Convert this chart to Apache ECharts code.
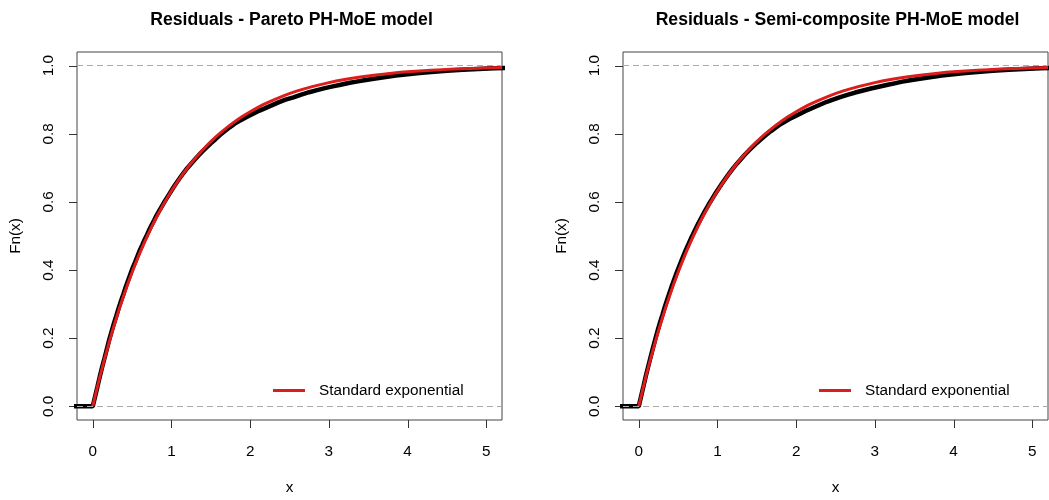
<!DOCTYPE html>
<html>
<head>
<meta charset="utf-8">
<script src="https://cdn.jsdelivr.net/npm/echarts@6/dist/echarts.min.js"></script>
<style>
html,body{margin:0;padding:0;background:#fff;}
#chart{width:1049px;height:500px;}
</style>
</head>
<body>
<div id="chart"></div>
<script>
// ---- data ----
var titles = ['Residuals - Pareto PH-MoE model', 'Residuals - Semi-composite PH-MoE model'];
var legendName = 'Standard exponential';
var xTicks = [0, 1, 2, 3, 4, 5];
var yTicks = [0, 0.2, 0.4, 0.6, 0.8, 1.0];

// reference curve (standard exponential CDF)
var expX = [0, 0.1, 0.2, 0.3, 0.4, 0.5, 0.6, 0.7, 0.8, 0.9, 1.0, 1.1, 1.2, 1.3, 1.4, 1.5, 1.6, 1.7, 1.8, 1.9, 2.0, 2.2, 2.4, 2.6, 2.8, 3.0, 3.2, 3.4, 3.6, 3.8, 4.0, 4.3, 4.6, 5.0, 5.2];
var expY = [0, 0.0952, 0.1813, 0.2592, 0.3297, 0.3935, 0.4512, 0.5034, 0.5507, 0.5934, 0.6321, 0.6671, 0.6988, 0.7275, 0.7534, 0.7769, 0.7981, 0.8173, 0.8347, 0.8504, 0.8647, 0.8892, 0.9093, 0.9257, 0.9392, 0.9502, 0.9592, 0.9666, 0.9727, 0.9776, 0.9817, 0.9864, 0.9899, 0.9933, 0.9945];

// empirical CDF of residuals, Pareto PH-MoE (black)
var paretoX = [-0.25, 0, 0.03, 0.06, 0.09, 0.12, 0.15, 0.18, 0.21, 0.24, 0.27, 0.30, 0.33, 0.36, 0.39, 0.42, 0.45, 0.48, 0.51, 0.54, 0.57, 0.60, 0.63, 0.66, 0.69, 0.72, 0.75, 0.78, 0.81, 0.84, 0.87, 0.90, 0.94, 0.98, 1.02, 1.06, 1.10, 1.15, 1.20, 1.25, 1.30, 1.35, 1.40, 1.45, 1.50, 1.56, 1.62, 1.68, 1.74, 1.80, 1.86, 1.92, 1.98, 2.05, 2.12, 2.20, 2.28, 2.36, 2.45, 2.55, 2.65, 2.75, 2.85, 2.95, 3.05, 3.15, 3.25, 3.35, 3.45, 3.55, 3.70, 3.85, 4.00, 4.15, 4.30, 4.50, 4.70, 4.90, 5.10, 5.25];
var paretoY = [0, 0, 0.029, 0.058, 0.088, 0.116, 0.142, 0.169, 0.196, 0.220, 0.244, 0.266, 0.289, 0.310, 0.330, 0.351, 0.370, 0.389, 0.408, 0.424, 0.442, 0.459, 0.474, 0.490, 0.504, 0.519, 0.533, 0.546, 0.560, 0.572, 0.584, 0.596, 0.611, 0.626, 0.641, 0.655, 0.668, 0.684, 0.699, 0.712, 0.725, 0.738, 0.750, 0.761, 0.772, 0.784, 0.797, 0.808, 0.819, 0.829, 0.837, 0.845, 0.852, 0.860, 0.868, 0.876, 0.884, 0.892, 0.900, 0.907, 0.915, 0.922, 0.928, 0.934, 0.939, 0.944, 0.949, 0.953, 0.957, 0.961, 0.966, 0.971, 0.975, 0.978, 0.981, 0.985, 0.988, 0.990, 0.992, 0.993];

// empirical CDF of residuals, Semi-composite PH-MoE (black)
var semiX = [-0.25, 0, 0.03, 0.06, 0.09, 0.12, 0.15, 0.18, 0.21, 0.24, 0.27, 0.30, 0.33, 0.36, 0.39, 0.42, 0.45, 0.48, 0.51, 0.54, 0.57, 0.60, 0.63, 0.66, 0.69, 0.72, 0.75, 0.78, 0.81, 0.84, 0.87, 0.90, 0.94, 0.98, 1.02, 1.06, 1.10, 1.15, 1.20, 1.25, 1.30, 1.35, 1.40, 1.45, 1.50, 1.56, 1.62, 1.68, 1.74, 1.80, 1.86, 1.92, 1.98, 2.05, 2.12, 2.20, 2.28, 2.36, 2.45, 2.55, 2.65, 2.75, 2.85, 2.95, 3.05, 3.15, 3.25, 3.35, 3.45, 3.55, 3.70, 3.85, 4.00, 4.15, 4.30, 4.50, 4.70, 4.90, 5.10, 5.25];
var semiY = [0, 0, 0.030, 0.059, 0.089, 0.117, 0.144, 0.171, 0.197, 0.222, 0.246, 0.268, 0.291, 0.312, 0.333, 0.353, 0.372, 0.391, 0.409, 0.426, 0.443, 0.460, 0.475, 0.491, 0.505, 0.520, 0.534, 0.547, 0.560, 0.573, 0.585, 0.597, 0.612, 0.627, 0.641, 0.655, 0.668, 0.684, 0.699, 0.713, 0.726, 0.739, 0.751, 0.762, 0.773, 0.785, 0.797, 0.808, 0.818, 0.828, 0.836, 0.844, 0.851, 0.859, 0.867, 0.875, 0.883, 0.891, 0.899, 0.907, 0.914, 0.921, 0.927, 0.933, 0.938, 0.943, 0.948, 0.953, 0.957, 0.961, 0.966, 0.971, 0.975, 0.978, 0.981, 0.985, 0.988, 0.990, 0.992, 0.993];

function zip(xs, ys) { return xs.map(function (x, i) { return [x, ys[i]]; }); }

var FONT = '"Liberation Sans", Arial, Helvetica, sans-serif';
var X_MIN = -0.2, X_MAX = 5.2, Y_MIN = -0.04, Y_MAX = 1.04, TICK_LEN = 8;
var panels = [
  { left: 77, ecdf: zip(paretoX, paretoY) },
  { left: 623, ecdf: zip(semiX, semiY) }
];
var gridW = 425, gridTop = 52, gridH = 371;

var option = {
  backgroundColor: '#fff',
  animation: false,
  title: panels.map(function (p, i) {
    return {
      text: titles[i], left: p.left + gridW / 2 - 3, top: 6, textAlign: 'center',
      textStyle: { fontFamily: FONT, fontWeight: 'bold', fontSize: 17.6, color: '#000' }
    };
  }),
  legend: panels.map(function (p, i) {
    return {
      data: [legendName], left: p.left + 191, top: 378,
      itemWidth: 32, itemHeight: 14, icon: 'path://M0,6 L32,6 L32,9 L0,9 Z',
      textStyle: { fontFamily: FONT, fontSize: 15.3, color: '#000', padding: [0, 0, 0, 9] },
      selectedMode: false
    };
  }),
  grid: panels.map(function (p) {
    return { left: p.left, top: gridTop, width: gridW, height: gridH, show: true, borderColor: '#444', borderWidth: 1, backgroundColor: 'transparent' };
  }),
  xAxis: panels.map(function (p, i) {
    return {
      type: 'value', gridIndex: i, min: X_MIN, max: X_MAX,
      name: 'x', nameLocation: 'middle', nameGap: 60,
      nameTextStyle: { fontFamily: FONT, fontSize: 15.3, color: '#000' },
      axisLine: { show: false, onZero: false },
      axisTick: { show: false },
      axisLabel: { fontFamily: FONT, fontSize: 15.3, color: '#000', margin: 24, customValues: xTicks },
      splitLine: { show: false }
    };
  }),
  yAxis: panels.map(function (p, i) {
    return {
      type: 'value', gridIndex: i, min: Y_MIN, max: Y_MAX,
      name: 'Fn(x)', nameLocation: 'middle', nameGap: 54, nameRotate: 90,
      nameTextStyle: { fontFamily: FONT, fontSize: 15.3, color: '#000' },
      axisLine: { show: false, onZero: false },
      axisTick: { show: false },
      axisLabel: {
        fontFamily: FONT, fontSize: 15.3, color: '#000', margin: 21, rotate: 90,
        customValues: yTicks, formatter: function (v) { return v.toFixed(1); }
      },
      splitLine: { show: false }
    };
  }),
  series: []
};

var tickStyle = { stroke: '#333', lineWidth: 1 };

panels.forEach(function (p, i) {
  option.series.push({
    type: 'line', name: 'ecdf' + i, xAxisIndex: i, yAxisIndex: i, data: p.ecdf,
    showSymbol: false, symbol: 'none', clip: true,
    lineStyle: { color: '#000', width: 4.5 }, z: 3,
    markLine: {
      silent: true, symbol: 'none', label: { show: false },
      lineStyle: { color: '#aaa', type: [6, 4], width: 1 },
      data: [{ yAxis: 0 }, { yAxis: 1 }]
    }
  });
  option.series.push({
    type: 'line', name: legendName, xAxisIndex: i, yAxisIndex: i, data: zip(expX, expY),
    showSymbol: false, symbol: 'none', clip: true, smooth: 0.3,
    lineStyle: { color: '#dd1c1c', width: 3 }, itemStyle: { color: '#dd1c1c' }, z: 4
  });
  // x-axis ticks (outward, R style)
  option.series.push({
    type: 'custom', name: 'xticks' + i, xAxisIndex: i, yAxisIndex: i, silent: true, clip: false,
    data: xTicks.map(function (v) { return [v, Y_MIN]; }),
    renderItem: function (params, api) {
      var pt = api.coord([api.value(0), Y_MIN]);
      var x = Math.round(pt[0]) + 0.5;
      return { type: 'line', shape: { x1: x, y1: pt[1], x2: x, y2: pt[1] + TICK_LEN }, style: tickStyle };
    }
  });
  // y-axis ticks
  option.series.push({
    type: 'custom', name: 'yticks' + i, xAxisIndex: i, yAxisIndex: i, silent: true, clip: false,
    data: yTicks.map(function (v) { return [X_MIN, v]; }),
    renderItem: function (params, api) {
      var pt = api.coord([X_MIN, api.value(1)]);
      var y = Math.round(pt[1]) + 0.5;
      return { type: 'line', shape: { x1: pt[0], y1: y, x2: pt[0] - TICK_LEN, y2: y }, style: tickStyle };
    }
  });
});

var chart = echarts.init(document.getElementById('chart'), null, { renderer: 'canvas' });
chart.setOption(option);
</script>
</body>
</html>
